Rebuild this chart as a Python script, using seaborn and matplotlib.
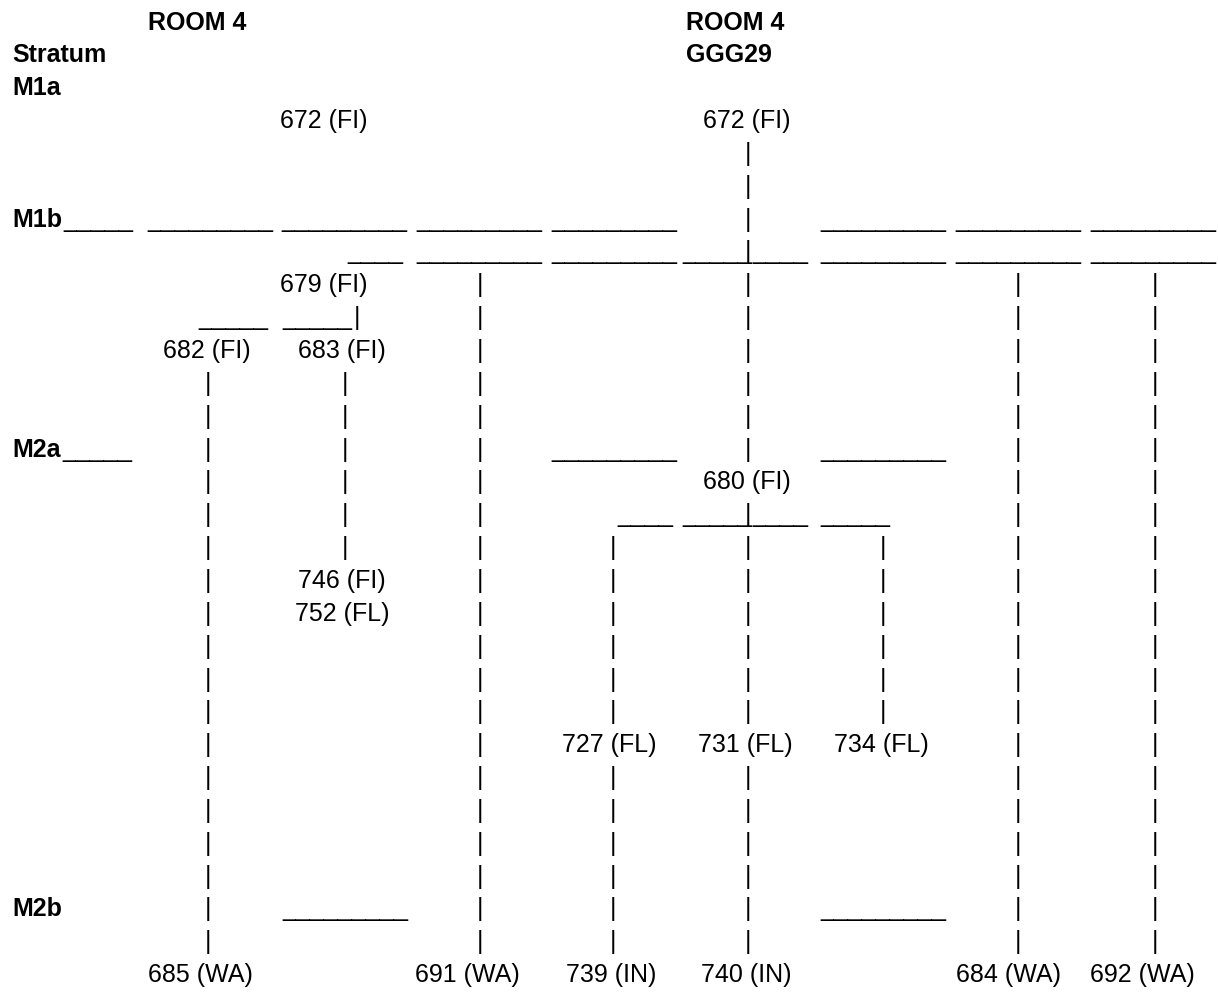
import matplotlib
matplotlib.use("Agg")
import matplotlib.pyplot as plt
import seaborn as sns

# Harris matrix for Room 4 / GGG29, laid out on text rows like the original sheet

# headings
headings = ["ROOM 4", "ROOM 4", "Stratum", "GGG29"]
heading_rows = [0, 0, 1, 1]

# strata labels
strata = ["M1a", "M1b", "M2a", "M2b"]
strata_rows = [2, 6, 13, 27]

# contexts (number + type)
contexts = ["672 (FI)", "672 (FI)", "679 (FI)", "682 (FI)", "683 (FI)",
            "680 (FI)", "746 (FI)", "752 (FL)", "727 (FL)", "731 (FL)",
            "734 (FL)", "685 (WA)", "691 (WA)", "739 (IN)", "740 (IN)",
            "684 (WA)", "692 (WA)"]
context_rows = [3, 3, 8, 10, 10, 14, 17, 18, 22, 22, 22, 29, 29, 29, 29, 29, 29]

# vertical connectors: column, first row, last row
pipe_cols = [0, 1, 2, 3, 3, 4, 4, 4, 5, 6, 7]
pipe_first = [11, 11, 8, 16, 23, 4, 15, 23, 16, 8, 8]
pipe_last = [28, 16, 28, 21, 28, 13, 21, 28, 21, 28, 28]

# horizontal rules (row, number of underscores)
rule_rows = [6, 6, 6, 6, 6, 6, 6, 6,
             7, 7, 7, 7, 7, 7, 7, 7,
             9, 9,
             13, 13, 13,
             15, 15, 15, 15,
             27, 27]
rule_chars = [5, 9, 9, 9, 9, 9, 9, 9,
              4, 9, 9, 5, 4, 9, 9, 9,
              5, 5,
              5, 9, 9,
              4, 5, 4, 5,
              9, 9]

# ---- layout (pixel positions on the sheet) ----
heading_x = [148, 686, 12, 686]
strata_x = 12
context_x = [280, 703, 280, 163, 298, 703, 298, 295, 562, 698, 834,
             148, 415, 566, 701, 956, 1090]
col_x = [208, 345, 480, 613, 748, 883, 1018, 1155]
rule_x = [63, 147, 281, 416, 551, 820, 955, 1090,
          347, 416, 551, 682, 752, 820, 955, 1090,
          198, 282,
          62, 551, 820,
          617, 682, 752, 820,
          282, 820]
extra_pipes = [(357, 9)]  # the "_____|" joining 683 to 679


def row_y(r):
    return 29.5 + 32.85 * r


sns.set_theme(style="white")
plt.rcParams["font.family"] = ["Liberation Sans", "DejaVu Sans"]
plt.rcParams["text.color"] = "black"
FS = 18

fig = plt.figure(figsize=(12.18, 9.98), dpi=100)
ax = fig.add_axes([0, 0, 1, 1])
ax.set_xlim(0, 1218)
ax.set_ylim(998, 0)
ax.axis("off")

for txt, r, x in zip(headings, heading_rows, heading_x):
    ax.text(x, row_y(r), txt, fontsize=FS, fontweight="bold", va="baseline", ha="left")

for txt, r in zip(strata, strata_rows):
    ax.text(strata_x, row_y(r), txt, fontsize=FS, fontweight="bold", va="baseline", ha="left")

for txt, r, x in zip(contexts, context_rows, context_x):
    ax.text(x, row_y(r), txt, fontsize=FS, va="baseline", ha="left")

for c, r0, r1 in zip(pipe_cols, pipe_first, pipe_last):
    for r in range(r0, r1 + 1):
        ax.text(col_x[c], row_y(r), "|", fontsize=FS, va="baseline", ha="center")

for x, r in extra_pipes:
    ax.text(x, row_y(r), "|", fontsize=FS, va="baseline", ha="center")

for r, n, x in zip(rule_rows, rule_chars, rule_x):
    ax.text(x, row_y(r), "_" * n, fontsize=FS, va="baseline", ha="left")

fig.savefig("out.png", dpi=100, facecolor="white")
plt.close(fig)
